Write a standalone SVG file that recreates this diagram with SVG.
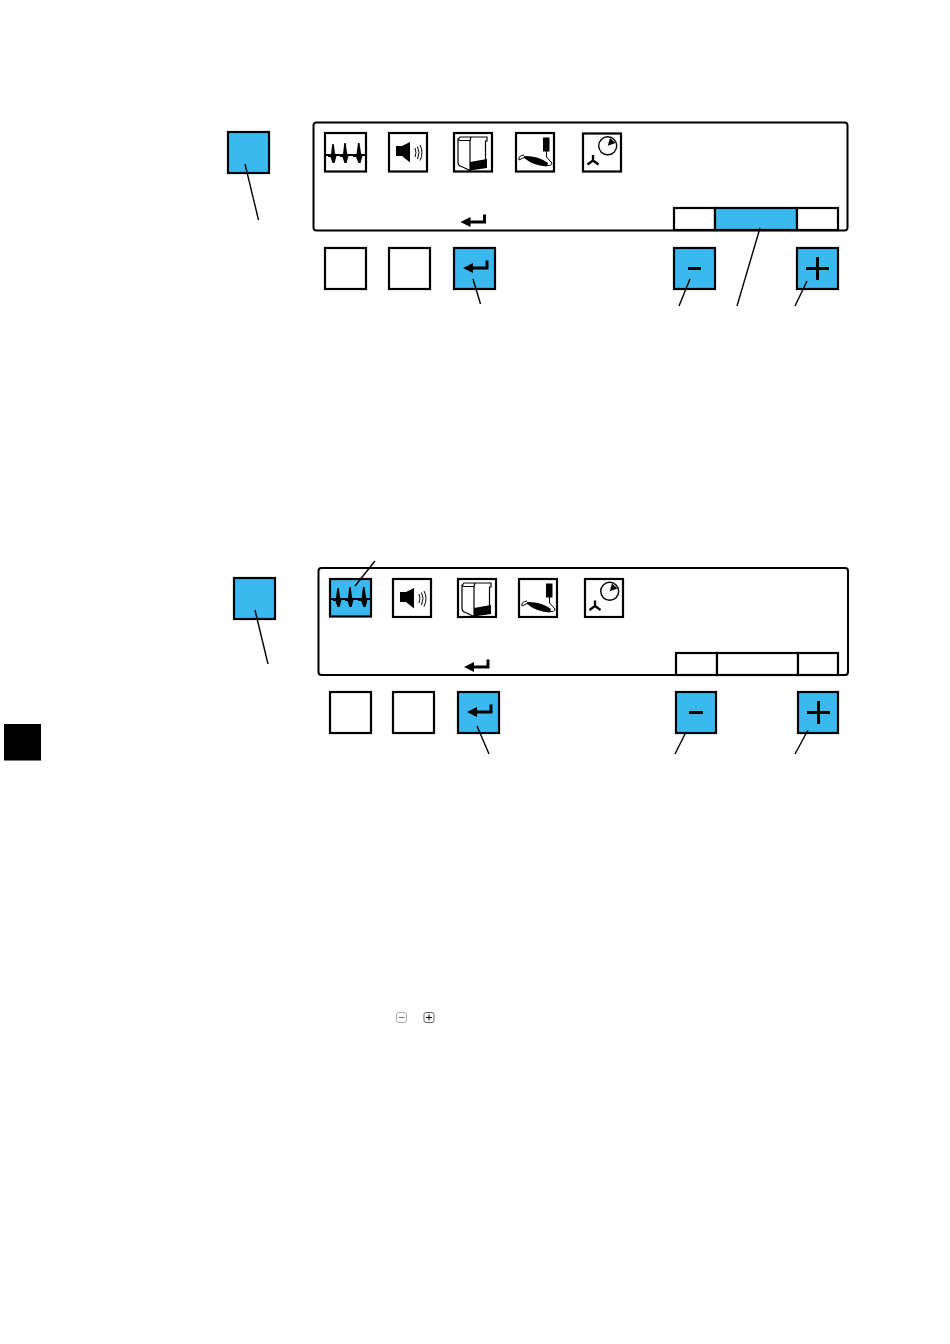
<svg xmlns="http://www.w3.org/2000/svg" width="950" height="1344" viewBox="0 0 950 1344">
<style>
.panel{fill:#fff;stroke:#000;stroke-width:2}
.key{fill:#fff;stroke:#000;stroke-width:2.200}
.blue{fill:#3bb9ee;stroke:#000;stroke-width:2.200}
.lead{fill:none;stroke:#000;stroke-width:1.400}
.ink{fill:none;stroke:#000;stroke-width:1.200}
.thin{fill:none;stroke:#000;stroke-width:1}
.thick{fill:none;stroke:#000;stroke-width:2.300}
.solid{fill:#000;stroke:none}
.sym{fill:none;stroke:#000;stroke-width:3}
</style>
<defs>
<g id="i-wave"><path class="ink" d="M1 22H41" style="stroke-width:1.800"/><path class="solid" d="M3 21H6L7.300 11 8.700 11 10 20 11.500 23 9.500 30H7.500L5.500 24H3ZM15 21H18L19.300 10 20.700 10 22 20 23.500 23 21.500 30H19.500L17.500 24H15ZM28 21H31.500L33 10 34.500 10 36 20 37.500 23 35.500 30H33.500L31 24H28Z"/></g>
<g id="i-spk"><path class="solid" d="M7 15H13L21 11V31.500L13 25H7Z"/><path class="thin" d="M26 17Q28 21.500 26 26M28.500 15.500Q31.500 21.500 28.500 28M31 14Q35 21.500 31 29.500"/></g>
<g id="i-box"><path class="ink" d="M4 6.500L6 4H17L16 7.500H6L4 6.500V30Q4.500 33 7.500 33.500L16 37.500V7.500M17 4H33V8H31.500V27"/><path class="solid" d="M16 29L33 26V35L16 37.500Z"/></g>
<g id="i-pen"><rect class="solid" x="27" y="4.500" width="6.500" height="14"/><path class="thin" d="M30.500 18V24L36 30Q36 33 31 32.500M8 22Q2 22.500 3 27L9 24"/><path class="solid" d="M8 23Q22 22.500 32 30L31 33.500Q18 33 8 25Z"/></g>
<g id="i-fan"><circle class="ink" cx="24.700" cy="12.300" r="9" fill="#fff" style="stroke-width:1.400"/><path class="solid" d="M24.700 12.300L27 4.500L32.500 9.500Z"/><path class="thick" d="M10 27V21.500M10 27L4.500 31M10 27L15.500 31"/></g>
<g id="k-enter"><path class="sym" d="M24 6.500V14H9"/><path class="solid" d="M0 14L10 9V19Z"/></g>
</defs>

<g id="top-panel">
<rect class="panel" x="313.500" y="122.500" width="534" height="108" rx="3"/>
<g id="top-softkeys">
<rect class="key" x="674" y="208" width="41" height="22"/>
<rect class="blue" x="715" y="208" width="82" height="22"/>
<rect class="key" x="797" y="208" width="41" height="22"/>
</g>
<use href="#k-enter" transform="translate(460.500,208)"/>
</g>
<g id="top-icon-1"><rect class="key" x="325" y="133" width="41" height="38.500"/><use href="#i-wave" transform="translate(325,133)"/></g>
<g id="top-icon-2"><rect class="key" x="389" y="133" width="38" height="38.500"/><use href="#i-spk" transform="translate(389,131)"/></g>
<g id="top-icon-3"><rect class="key" x="454" y="133" width="38" height="38.500"/><use href="#i-box" transform="translate(454,133)"/></g>
<g id="top-icon-4"><rect class="key" x="516" y="133" width="38" height="38.500"/><use href="#i-pen" transform="translate(516,133)"/></g>
<g id="top-icon-5"><rect class="key" x="583" y="133.500" width="38" height="38"/><use href="#i-fan" transform="translate(583,133.500)"/></g>
<g id="top-side-key"><rect class="blue" x="228" y="132" width="41" height="41"/></g>
<g id="top-key-1"><rect class="key" x="325" y="248" width="41" height="41"/></g>
<g id="top-key-2"><rect class="key" x="389" y="248" width="41" height="41"/></g>
<g id="top-key-enter"><rect class="blue" x="454" y="248" width="41" height="41"/><use href="#k-enter" transform="translate(463,254)"/></g>
<g id="top-key-minus"><rect class="blue" x="674" y="248" width="41" height="41"/><path class="sym" d="M688 268.500H701"/></g>
<g id="top-key-plus"><rect class="blue" x="797" y="248" width="41" height="41"/><path class="sym" d="M806 268.500H829M817.500 257V280"/></g>

<g id="bottom-panel">
<rect class="panel" x="318.500" y="568" width="529.500" height="107" rx="3"/>
<g id="bottom-softkeys">
<rect class="key" x="676" y="653" width="41" height="22"/>
<rect class="key" x="717" y="653" width="81" height="22"/>
<rect class="key" x="798" y="653" width="40" height="22"/>
</g>
<use href="#k-enter" transform="translate(464,653)"/>
</g>
<g id="bottom-icon-1"><rect class="blue" x="330" y="579" width="41" height="37.500"/><use href="#i-wave" transform="translate(330,577)"/></g>
<g id="bottom-icon-2"><rect class="key" x="393" y="579" width="38" height="38"/><use href="#i-spk" transform="translate(393,577)"/></g>
<g id="bottom-icon-3"><rect class="key" x="458" y="579" width="38" height="38"/><use href="#i-box" transform="translate(458,579)"/></g>
<g id="bottom-icon-4"><rect class="key" x="519" y="579" width="38" height="38"/><use href="#i-pen" transform="translate(519,579)"/></g>
<g id="bottom-icon-5"><rect class="key" x="585" y="579" width="38" height="38"/><use href="#i-fan" transform="translate(585,579)"/></g>
<g id="bottom-side-key"><rect class="blue" x="234" y="578" width="41" height="41"/></g>
<g id="bottom-key-1"><rect class="key" x="330" y="692" width="41" height="41"/></g>
<g id="bottom-key-2"><rect class="key" x="393" y="692" width="41" height="41"/></g>
<g id="bottom-key-enter"><rect class="blue" x="458" y="692" width="41" height="41"/><use href="#k-enter" transform="translate(467,698)"/></g>
<g id="bottom-key-minus"><rect class="blue" x="676" y="692" width="40" height="41"/><path class="sym" d="M689 712.500H703"/></g>
<g id="bottom-key-plus"><rect class="blue" x="798" y="692" width="40" height="41"/><path class="sym" d="M807 712.500H830M818.500 701V724"/></g>

<g id="tab"><rect x="4" y="724" width="37" height="36.500" fill="#000"/></g>

<g id="inline-minus"><rect x="396.500" y="1012.500" width="10" height="10" rx="2.500" fill="#fff" stroke="#aaa"/><path d="M398.500 1017.500H404.500" stroke="#777" fill="none"/></g>
<g id="inline-plus"><rect x="424" y="1012.500" width="10" height="10" rx="2" fill="#fff" stroke="#666"/><path d="M426 1017.500H432M429 1014.500V1020.500" stroke="#000" fill="none"/></g>

<g id="connectors">
<path class="lead" d="M245 164L258.500 220"/>
<path class="lead" d="M473 279L480.500 304"/>
<path class="lead" d="M690 279L679 306"/>
<path class="lead" d="M760 228L737 306"/>
<path class="lead" d="M807 281L795 306"/>
<path class="lead" d="M375 561L355 586"/>
<path class="lead" d="M255 610L268 664"/>
<path class="lead" d="M477 726L489 754"/>
<path class="lead" d="M686 732L675 754"/>
<path class="lead" d="M808 730L795 754"/>
</g>
</svg>
